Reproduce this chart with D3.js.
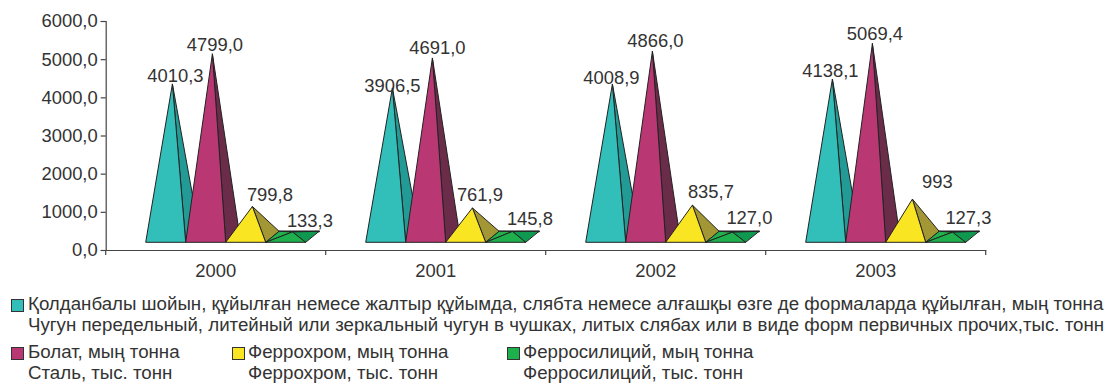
<!DOCTYPE html>
<html><head><meta charset="utf-8">
<script src="https://cdn.jsdelivr.net/npm/d3@7/dist/d3.min.js"></script>
<style>html,body{margin:0;padding:0;background:#fff}svg{display:block}text{font-family:"Liberation Sans",Arial,sans-serif;fill:#333}</style>
</head><body><svg id="c" width="1106" height="383"></svg>
<script>
const years = ["2000","2001","2002","2003"];
const yTicks = [0,1000,2000,3000,4000,5000,6000];
const seriesNames = ["iron","steel","ferrochrome","ferrosilicon"];
const iron = [4010.3,3906.5,4008.9,4138.1];
const steel = [4799.0,4691.0,4866.0,5069.4];
const ferrochrome = [799.8,761.9,835.7,993];
const ferrosilicon = [133.3,145.8,127.0,127.3];
const labelsIron = ["4010,3","3906,5","4008,9","4138,1"];
const labelsSteel = ["4799,0","4691,0","4866,0","5069,4"];
const labelsChrome = ["799,8","761,9","835,7","993"];
const labelsSilicon = ["133,3","145,8","127,0","127,3"];
const frontColors = ["#32bfb9","#b93874","#f9e522","#1eb04c"];
const sideColors = ["#229a96","#6b2c49","#a39735","#0f9950"];
const leftColors = ["#32bfb9","#b93874","#f9e522","#22b14c"];
// label nudges from apex [dx, dy], by series then year
const nudgeIron = [[3,-1.5],[0,4],[-1,0],[-2,-2]];
const nudgeSteel = [[2.5,-3],[5,-3.5],[3,-4],[2.5,-3.5]];
const nudgeChrome = [[17.5,-5.5],[7.5,-6.5],[18.5,-7.5],[25,-11]];
const nudgeSilicon = [[17.5,-5],[17.5,-6],[17,-8],[16,-8]];
const legend = [
 {c:0,x:11,y:299,t:["Қолданбалы шойын, құйылған немесе жалтыр құйымда, слябта немесе алғашқы өзге де формаларда құйылған, мың тонна","Чугун передельный, литейный или зеркальный чугун в чушках, литых слябах или в виде форм первичных прочих,тыс. тонн"]},
 {c:1,x:11,y:347,t:["Болат, мың тонна","Сталь, тыс. тонн"]},
 {c:2,x:232,y:347,t:["Феррохром, мың тонна","Феррохром, тыс. тонн"]},
 {c:3,x:507,y:347,t:["Ферросилиций, мың тонна","Ферросилиций, тыс. тонн"]}
];

const svg = d3.select("#c");
const x0 = d3.scaleBand().domain(years).range([105.7,985.7]);
const xS = d3.scaleBand().domain(seriesNames).range([40,200]); // within the category
const y = d3.scaleLinear().domain([0,6000]).range([250,21]);
const apexY = d3.scaleLinear().domain([0,6000]).range([237,8]);
const frontY = 242.3, depthX = 13.4, depthY = 11;
const vals = [iron,steel,ferrochrome,ferrosilicon];
const labs = [labelsIron,labelsSteel,labelsChrome,labelsSilicon];
const nudges = [nudgeIron,nudgeSteel,nudgeChrome,nudgeSilicon];
const FS = 18.4, LFS = 18.7;

// axes
const gy = svg.append("g").attr("transform","translate(105.7,0)")
  .call(d3.axisLeft(y).tickValues(yTicks).tickSize(5).tickPadding(3).tickFormat(d=>d3.format(".1f")(d).replace(".",",")));
const gx = svg.append("g").attr("transform","translate(0,250)")
  .call(d3.axisBottom(x0).tickValues([]).tickSize(0));
gx.selectAll(".year").data(years).enter().append("text").attr("class","year")
  .attr("x",d=>x0(d)+x0.bandwidth()/2).attr("y",27).attr("text-anchor","middle").attr("font-size",FS).text(d=>d);
gx.selectAll(".t").data(d3.range(years.length+1)).enter().append("line").attr("class","t")
  .attr("x1",i=>105.7+i*x0.bandwidth()).attr("x2",i=>105.7+i*x0.bandwidth()).attr("y1",0).attr("y2",5);
svg.selectAll(".domain,.t,.tick line").attr("stroke","#444").attr("stroke-width",1.2);
gy.selectAll(".tick text").attr("font-size",FS).style("font-family",'"Liberation Sans",Arial,sans-serif').attr("fill","#333");

// pyramids
const line = p => "M"+p.map(q=>q.join(",")).join("L")+"Z";
seriesNames.forEach((s,si)=>{
  years.forEach((yr,yi)=>{
    const v = vals[si][yi];
    const l = x0(yr)+xS(s), w = xS.bandwidth(), r = l+w;
    const apex = [l+w/2+depthX/2, apexY(v)];
    const fl=[l,frontY], fr=[r,frontY], bl=[l+depthX,frontY-depthY], br=[r+depthX,frontY-depthY];
    const g = svg.append("g").attr("stroke","#222").attr("stroke-width",1).attr("stroke-linejoin","round");
    if (apex[1] > bl[1]-1) { // flat pyramid: its back edge and left face show
      g.append("path").attr("d",line([bl,br,apex])).attr("fill",sideColors[si]).attr("stroke-width",1.8);
      g.append("path").attr("d",line([fl,bl,apex])).attr("fill",leftColors[si]);
    }
    g.append("path").attr("d",line([fr,br,apex])).attr("fill",sideColors[si]);
    g.append("path").attr("d",line([fl,fr,apex])).attr("fill",frontColors[si]);
  });
});
// value labels
seriesNames.forEach((s,si)=>{
  years.forEach((yr,yi)=>{
    const l = x0(yr)+xS(s), w = xS.bandwidth();
    svg.append("text").attr("x",l+w/2+depthX/2+nudges[si][yi][0]).attr("y",apexY(vals[si][yi])+nudges[si][yi][1])
      .attr("text-anchor","middle").attr("font-size",FS).text(labs[si][yi]);
  });
});
// legend
legend.forEach(d=>{
  svg.append("rect").attr("x",d.x+0.5).attr("y",d.y+0.5).attr("width",12).attr("height",12)
    .attr("fill",frontColors[d.c]).attr("stroke","#333").attr("stroke-width",1);
  d.t.forEach((t,i)=>svg.append("text").attr("x",d.x+(d.c===0||d.c===1?17:16)).attr("y",d.y+11+i*21).attr("font-size",LFS).text(t));
});
</script></body></html>
